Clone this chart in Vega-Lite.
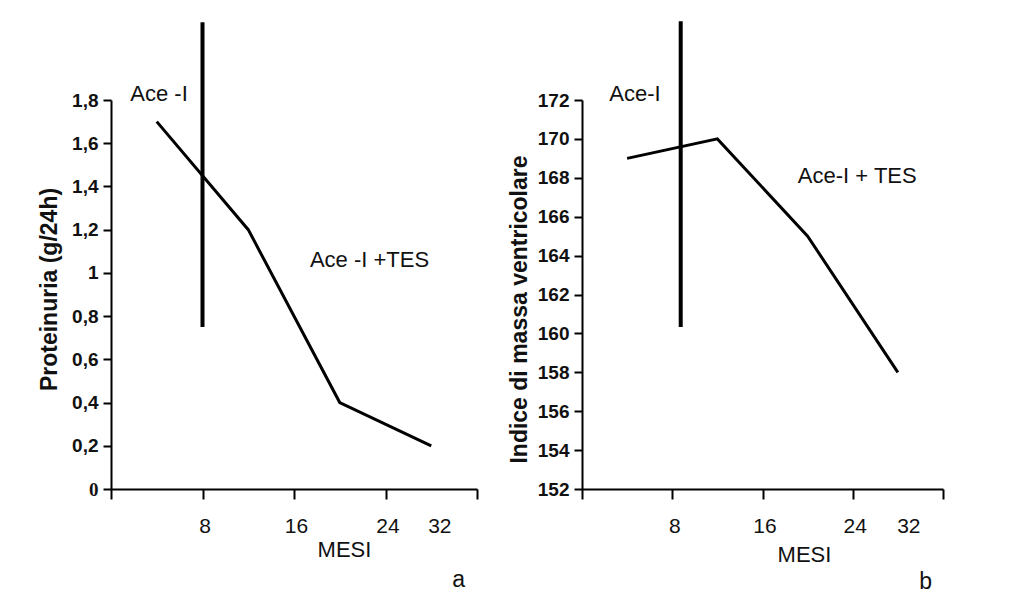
{
  "$schema": "https://vega.github.io/schema/vega-lite/v6.json",
  "background": "white",
  "padding": {"left": 38, "top": 19, "right": 5, "bottom": 5},
  "spacing": 30,
  "datasets": {
    "lineA": [
      {"mesi": 4, "val": 1.7},
      {"mesi": 12, "val": 1.2},
      {"mesi": 20, "val": 0.4},
      {"mesi": 28, "val": 0.2}
    ],
    "ruleA": [{"mesi": 8, "val": 0.75, "val2": 2.16}],
    "textA": [
      {"mesi": 4.2, "val": 1.83, "label": "Ace -I"},
      {"mesi": 22.6, "val": 1.06, "label": "Ace -I +TES"}
    ],
    "lineB": [
      {"mesi": 4, "val": 169},
      {"mesi": 12, "val": 170},
      {"mesi": 20, "val": 165},
      {"mesi": 28, "val": 158}
    ],
    "ruleB": [{"mesi": 8.75, "val": 160.33, "val2": 176.05}],
    "textB": [
      {"mesi": 4.7, "val": 172.3, "label": "Ace-I"},
      {"mesi": 24.4, "val": 168.1, "label": "Ace-I + TES"}
    ]
  },
  "hconcat": [
    {
      "width": 366,
      "height": 389,
      "title": {"text": "a", "orient": "bottom", "anchor": "end", "frame": "group", "dx": -12, "offset": 9},
      "encoding": {
        "x": {
          "field": "mesi", "type": "quantitative",
          "scale": {"domain": [0, 32], "nice": false, "zero": false},
          "axis": {
            "values": [0, 8, 16, 24, 32],
            "labelExpr": "datum.value == 0 ? '' : datum.label",
            "title": "MESI", "titleX": 233, "titleY": 60, "titleBaseline": "middle",
            "titleFontSize": 22, "titleFontWeight": "normal",
            "labelFontSize": 21, "labelFontWeight": "normal",
            "labelPadding": 16, "tickSize": 10,
            "labelOffset": {"condition": {"test": "datum.value == 32", "value": -26}, "value": 2}
          }
        },
        "y": {
          "field": "val", "type": "quantitative",
          "scale": {"domain": [0, 1.8], "nice": false, "zero": false},
          "axis": {
            "values": [0, 0.2, 0.4, 0.6, 0.8, 1, 1.2, 1.4, 1.6, 1.8],
            "labelExpr": "replace(format(datum.value, '.1~f'), '.', ',')",
            "title": "Proteinuria (g/24h)", "titleY": 189,
            "titleFontSize": 23, "titleFontWeight": "bold", "titlePadding": 10,
            "labelFontSize": 19, "labelFontWeight": "bold", "labelPadding": 5, "tickSize": 8,
            "labelFont": {"condition": {"test": "datum.value == 0", "value": "Liberation Serif"}, "value": "Liberation Sans"}
          }
        }
      },
      "layer": [
        {"data": {"name": "lineA"}, "mark": {"type": "line", "color": "black", "strokeWidth": 3}},
        {"data": {"name": "ruleA"}, "mark": {"type": "rule", "color": "black", "strokeWidth": 4}, "encoding": {"y2": {"field": "val2"}}},
        {"data": {"name": "textA"}, "mark": {"type": "text", "fontSize": 22, "font": "Liberation Sans", "color": "#111"}, "encoding": {"text": {"field": "label"}}}
      ]
    },
    {
      "width": 361,
      "height": 389,
      "title": {"text": "b", "orient": "bottom", "anchor": "end", "frame": "group", "dx": -11, "offset": 6},
      "encoding": {
        "x": {
          "field": "mesi", "type": "quantitative",
          "scale": {"domain": [0, 32], "nice": false, "zero": false},
          "axis": {
            "values": [0, 8, 16, 24, 32],
            "labelExpr": "datum.value == 0 ? '' : datum.label",
            "title": "MESI", "titleX": 222, "titleY": 65, "titleBaseline": "middle",
            "titleFontSize": 22, "titleFontWeight": "normal",
            "labelFontSize": 21, "labelFontWeight": "normal",
            "labelPadding": 16, "tickSize": 10,
            "labelOffset": {"condition": {"test": "datum.value == 32", "value": -23}, "value": 2}
          }
        },
        "y": {
          "field": "val", "type": "quantitative",
          "scale": {"domain": [152, 172], "nice": false, "zero": false},
          "axis": {
            "values": [152, 154, 156, 158, 160, 162, 164, 166, 168, 170, 172],
            "title": "Indice di massa ventricolare", "titleY": 209,
            "titleFontSize": 23, "titleFontWeight": "bold", "titlePadding": 6,
            "labelFontSize": 19, "labelFontWeight": "bold", "labelPadding": 5, "tickSize": 8
          }
        }
      },
      "layer": [
        {"data": {"name": "lineB"}, "mark": {"type": "line", "color": "black", "strokeWidth": 3}},
        {"data": {"name": "ruleB"}, "mark": {"type": "rule", "color": "black", "strokeWidth": 4}, "encoding": {"y2": {"field": "val2"}}},
        {"data": {"name": "textB"}, "mark": {"type": "text", "fontSize": 22, "font": "Liberation Sans", "color": "#111"}, "encoding": {"text": {"field": "label"}}}
      ]
    }
  ],
  "config": {
    "view": {"stroke": null},
    "axis": {
      "domainColor": "black", "domainWidth": 2, "tickColor": "black", "tickWidth": 2,
      "grid": false, "labelColor": "#111", "titleColor": "#111",
      "labelFont": "Liberation Sans", "titleFont": "Liberation Sans"
    },
    "title": {"font": "Liberation Sans", "fontSize": 23, "fontWeight": "normal", "color": "#111"}
  }
}
